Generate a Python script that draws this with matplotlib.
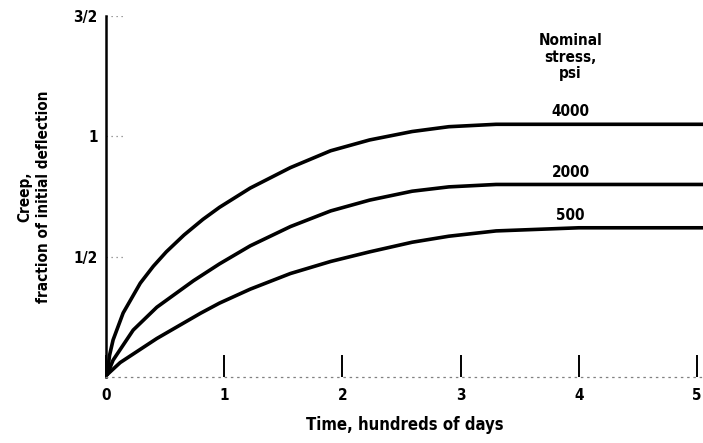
import numpy as np
import matplotlib
matplotlib.use("Agg")
import matplotlib.pyplot as plt

plt.rcParams['font.family'] = ['DejaVu Sans']
plt.rcParams['font.weight'] = 'bold'
plt.rcParams['font.stretch'] = 'condensed'

# Time, hundreds of days
time_4000 = [0.01, 0.03, 0.06, 0.145, 0.29, 0.40, 0.51, 0.66, 0.82, 0.96, 1.22,
             1.56, 1.90, 2.23, 2.59, 2.90, 3.30, 4.00, 5.05]
creep_4000 = [0.01, 0.09, 0.154, 0.266, 0.39, 0.46, 0.52, 0.59, 0.655, 0.705, 0.785,
              0.87, 0.94, 0.985, 1.02, 1.04, 1.05, 1.05, 1.05]

time_2000 = [0.01, 0.06, 0.23, 0.43, 0.74, 0.96, 1.22, 1.56, 1.90, 2.23, 2.59,
             2.90, 3.30, 4.00, 5.05]
creep_2000 = [0.01, 0.07, 0.195, 0.29, 0.40, 0.47, 0.545, 0.625, 0.69, 0.735, 0.772,
              0.79, 0.80, 0.80, 0.80]

time_500 = [0.01, 0.12, 0.43, 0.80, 0.96, 1.22, 1.56, 1.90, 2.23, 2.59, 2.90,
            3.30, 4.00, 5.05]
creep_500 = [0.01, 0.06, 0.16, 0.265, 0.307, 0.365, 0.43, 0.48, 0.52, 0.56, 0.585,
             0.607, 0.62, 0.62]

stress_labels = ['4000', '2000', '500']
x_ticks = [0, 1, 2, 3, 4, 5]
y_ticks = [0.5, 1.0, 1.5]
y_tick_labels = ['1/2', '1', '3/2']

fig = plt.figure(figsize=(7.03, 4.43), dpi=100)
ax = fig.add_axes([106 / 703, 1 - 377 / 443, 1 - 106 / 703, (377 - 16) / 443])

series = [(time_4000, creep_4000), (time_2000, creep_2000), (time_500, creep_500)]
for (t, c), lab in zip(series, stress_labels):
    ax.plot(t, c, color='black', lw=2.6, solid_capstyle='round',
            solid_joinstyle='round')
    ax.text(3.93, c[-1] + 0.02, lab, ha='center', va='bottom', fontsize=11,
            fontweight='bold')

ax.text(3.93, 1.43, 'Nominal\nstress,\npsi', ha='center', va='top', fontsize=11,
        fontweight='bold', linespacing=1.15)

ax.set_xlim(0, 5.05)
ax.set_ylim(0, 1.5)

# dotted stubs at the y ticks
ax.hlines(y_ticks, 0, 0.16, colors='gray', linestyles=(0, (1, 3)), lw=0.9)

ax.set_xticks(x_ticks)
ax.set_xticklabels([str(v) for v in x_ticks], fontsize=11, fontweight='bold')
ax.set_yticks(y_ticks)
ax.set_yticklabels(y_tick_labels, fontsize=11, fontweight='bold')
ax.tick_params(axis='x', direction='in', length=16, width=1.4, pad=8)
ax.tick_params(axis='y', length=0, pad=6)

for s in ['top', 'right']:
    ax.spines[s].set_visible(False)
ax.spines['left'].set_linewidth(1.8)
ax.spines['bottom'].set_color('gray')
ax.spines['bottom'].set_linestyle((0, (1, 4)))
ax.spines['bottom'].set_linewidth(0.9)

ax.set_xlabel('Time, hundreds of days', fontsize=12, fontweight='bold', labelpad=9)
ax.set_ylabel('Creep,\nfraction of initial deflection', fontsize=11,
              fontweight='bold', labelpad=16, linespacing=1.3)

fig.savefig('out.png', dpi=100)
